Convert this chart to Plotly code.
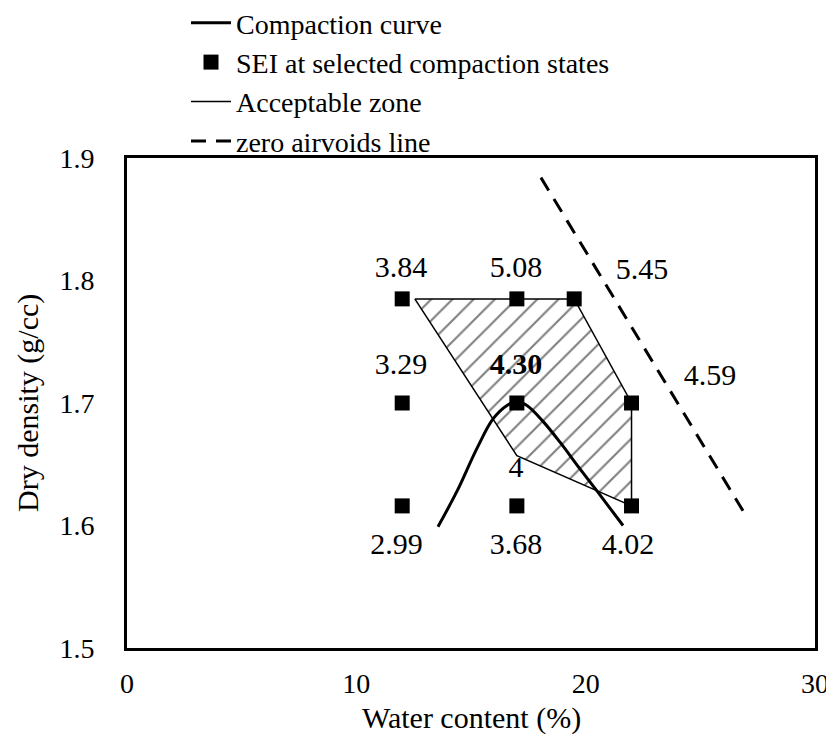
import plotly.graph_objects as go

# Compaction curve (water content %, dry density g/cc)
curve_w = [13.56, 14.39, 15.26, 15.96, 16.57, 17.0, 17.44, 18.14, 18.88, 19.76, 20.5, 21.63]
curve_d = [1.599, 1.628, 1.663, 1.687, 1.698, 1.701, 1.698, 1.685, 1.668, 1.646, 1.628, 1.600]

# SEI at selected compaction states
sei_w = [12, 17, 19.5, 12, 17, 22, 12, 17, 22]
sei_d = [1.785, 1.785, 1.785, 1.700, 1.700, 1.700, 1.616, 1.616, 1.616]

# Acceptable zone polygon
zone_w = [12.55, 19.5, 22, 22, 17, 12.55]
zone_d = [1.785, 1.785, 1.700, 1.616, 1.657, 1.785]

# Zero air voids line
zav_w = [18.05, 26.86]
zav_d = [1.884, 1.612]

# SEI value labels
label_text = ["3.84", "5.08", "5.45", "3.29", "<b>4.30</b>", "4.59", "4", "2.99", "3.68", "4.02"]
label_w = [11.95, 16.96, 22.46, 11.95, 16.96, 25.42, 16.96, 11.75, 16.96, 21.85]
label_d = [1.809, 1.809, 1.807, 1.730, 1.730, 1.721, 1.646, 1.583, 1.583, 1.583]

FONT = "Liberation Serif"
FS = 28

W, H = 826, 732
L, T, R, B = 119, 150, 19, 92
PW, PH = W - L - R, H - T - B

fig = go.Figure()

fig.add_trace(go.Scatter(
    x=zone_w, y=zone_d, mode="none", fill="toself",
    fillcolor="rgba(255,255,255,0)",
    fillpattern=dict(shape="/", fgcolor="black", bgcolor="white", size=15, solidity=0.14),
    showlegend=False, hoverinfo="skip"))

fig.add_trace(go.Scatter(
    x=curve_w, y=curve_d, mode="lines", name="Compaction curve",
    line=dict(color="black", width=3, shape="spline"), legendrank=1))

fig.add_trace(go.Scatter(
    x=sei_w, y=sei_d, mode="markers", name="SEI at selected compaction states",
    marker=dict(symbol="square", size=15, color="black"), legendrank=2))

fig.add_trace(go.Scatter(
    x=zone_w, y=zone_d, mode="lines", name="Acceptable zone",
    line=dict(color="black", width=1.5), legendrank=3))

fig.add_trace(go.Scatter(
    x=zav_w, y=zav_d, mode="lines", name="zero airvoids line",
    line=dict(color="black", width=3, dash="15px,10px"), legendrank=4))

fig.add_trace(go.Scatter(
    x=label_w, y=label_d, mode="text", text=label_text,
    textfont=dict(family=FONT, size=30, color="black"),
    showlegend=False, hoverinfo="skip"))

fig.update_layout(
    width=W, height=H,
    margin=dict(l=L, r=R, t=T, b=B, autoexpand=False),
    paper_bgcolor="white", plot_bgcolor="white",
    font=dict(family=FONT, size=FS, color="black"),
    legend=dict(x=(178 - L) / PW, y=1 + (T + 10) / PH, xref="paper", yref="paper",
                xanchor="left", yanchor="top",
                font=dict(family=FONT, size=28), bgcolor="rgba(0,0,0,0)",
                tracegroupgap=0, itemwidth=40),
    annotations=[
        dict(text="Water content (%)", x=0.5, y=-70 / PH, xref="paper", yref="paper",
             xanchor="center", yanchor="middle", showarrow=False,
             font=dict(family=FONT, size=30)),
        dict(text="Dry density (g/cc)", x=-(L - 20) / PW, y=0.5, xref="paper", yref="paper",
             xanchor="center", yanchor="middle", showarrow=False, textangle=-90,
             font=dict(family=FONT, size=30)),
    ],
)
fig.update_xaxes(range=[0, 30], tickvals=[0, 10, 20, 30], showgrid=False, zeroline=False,
                 showline=True, linecolor="black", linewidth=3, mirror=True,
                 ticks="", ticklabelstandoff=8, ticklabeloverflow="allow",
                 automargin=False)
fig.update_yaxes(range=[1.5, 1.9], tickvals=[1.5, 1.6, 1.7, 1.8, 1.9], tickformat=".1f",
                 showgrid=False, zeroline=False,
                 showline=True, linecolor="black", linewidth=3, mirror=True,
                 ticks="", ticklabelstandoff=24, automargin=False)

fig.write_html("out.html")
